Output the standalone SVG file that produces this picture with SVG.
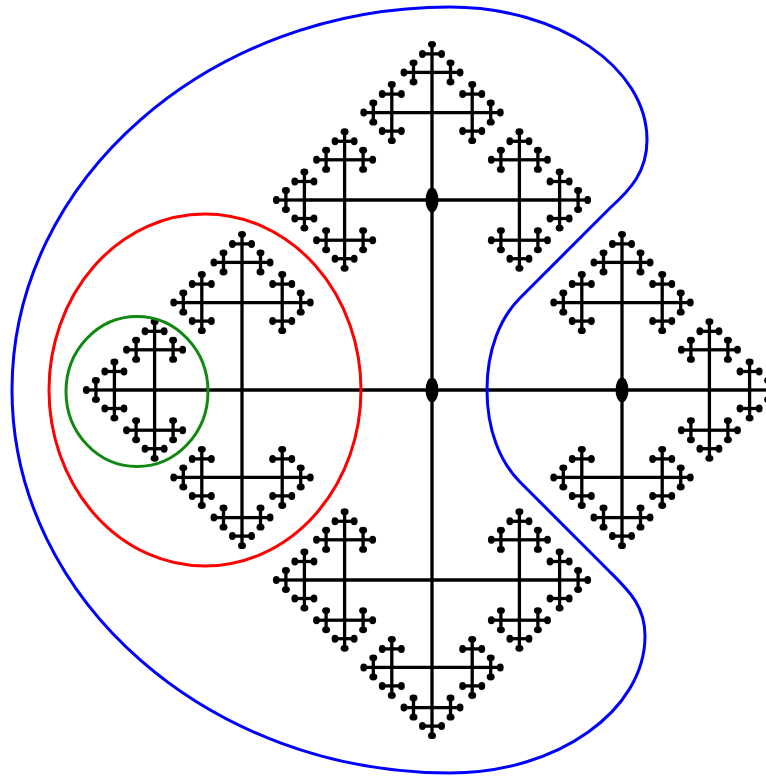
<svg xmlns="http://www.w3.org/2000/svg" xmlns:xlink="http://www.w3.org/1999/xlink" width="766" height="777" viewBox="0 0 766 777">
  <defs>
    <g id="b5"><path d="M0 0H8.51"/><ellipse cx="9.6" cy="0" rx="3.4" ry="4" fill="#000" stroke="none"/></g>
    <g id="b4"><path d="M0 0H18.5"/><use href="#b5" transform="translate(18.5 0)"/><use href="#b5" transform="translate(18.5 0) rotate(90)"/><use href="#b5" transform="translate(18.5 0) rotate(-90)"/></g>
    <g id="b3"><path d="M0 0H40.2"/><use href="#b4" transform="translate(40.2 0)"/><use href="#b4" transform="translate(40.2 0) rotate(90)"/><use href="#b4" transform="translate(40.2 0) rotate(-90)"/></g>
    <g id="b2"><path d="M0 0H87.4"/><use href="#b3" transform="translate(87.4 0)"/><use href="#b3" transform="translate(87.4 0) rotate(90)"/><use href="#b3" transform="translate(87.4 0) rotate(-90)"/></g>
    <g id="b1"><path d="M0 0H190"/><use href="#b2" transform="translate(190 0)"/><use href="#b2" transform="translate(190 0) rotate(90)"/><use href="#b2" transform="translate(190 0) rotate(-90)"/></g>
  </defs>
  <rect width="766" height="777" fill="#fff"/>
  <g id="tree" stroke="#000" stroke-width="3.3" fill="none">
    <use href="#b1" transform="translate(432 390)"/>
    <use href="#b1" transform="translate(432 390) rotate(90)"/>
    <use href="#b1" transform="translate(432 390) rotate(180)"/>
    <use href="#b1" transform="translate(432 390) rotate(270)"/>
  </g>
  <g id="dots" fill="#000">
    <ellipse cx="432" cy="200" rx="6.5" ry="12.5"/>
    <ellipse cx="432" cy="390" rx="6.5" ry="12.5"/>
    <ellipse cx="622" cy="390" rx="6.5" ry="12.5"/>
  </g>
  <g id="curves" fill="none" stroke-width="3">
    <path id="blue" stroke="#0000ff" d="M12 390 C12 179 210 7 450 7 C558 7 647 67 647 140 C647 172 630 190 610 208 L520 298 C500 318 487 350 487 390 C487 430 500 462 520 482 L608 570 C628 590 645 605 645 636 C645 710 558 773 450 773 C210 773 12 601 12 390 Z"/>
    <ellipse id="red" cx="205" cy="390" rx="156" ry="176" stroke="#ff0000"/>
    <ellipse id="green" cx="137" cy="391.5" rx="71" ry="75" stroke="#118811"/>
  </g>
</svg>
